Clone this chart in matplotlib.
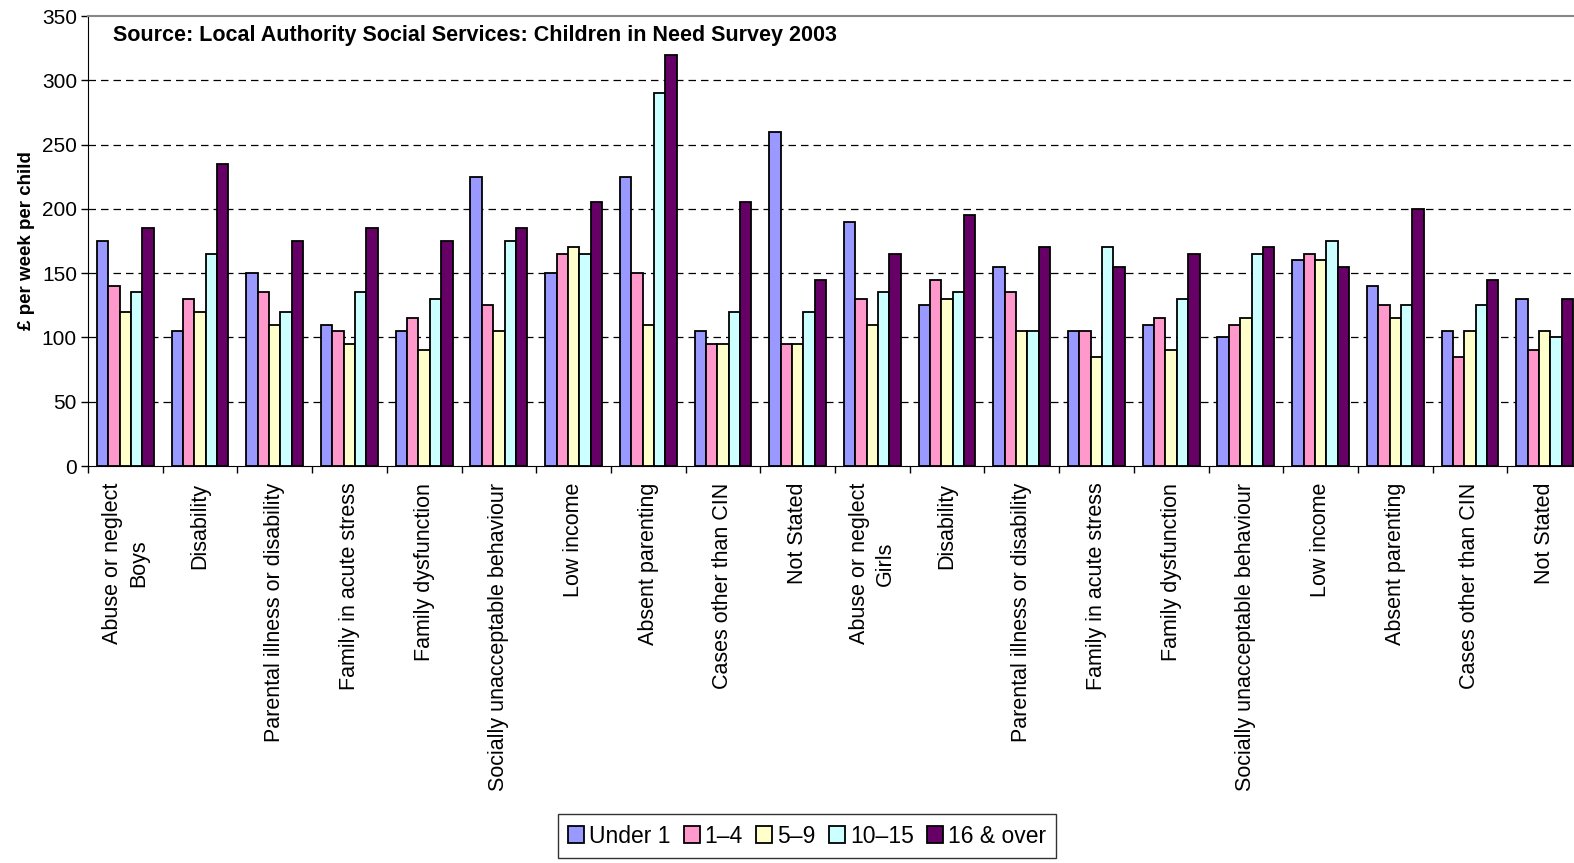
import matplotlib
matplotlib.use("Agg")
import matplotlib.pyplot as plt
import numpy as np

plt.rcParams['font.family'] = ['Liberation Sans', 'DejaVu Sans']

categories = [
    "Abuse or neglect\nBoys", "Disability", "Parental illness or disability",
    "Family in acute stress", "Family dysfunction", "Socially unacceptable behaviour",
    "Low income", "Absent parenting", "Cases other than CIN", "Not Stated",
    "Abuse or neglect\nGirls", "Disability", "Parental illness or disability",
    "Family in acute stress", "Family dysfunction", "Socially unacceptable behaviour",
    "Low income", "Absent parenting", "Cases other than CIN", "Not Stated",
]
series_names = ["Under 1", "1\u20134", "5\u20139", "10\u201315", "16 & over"]
under1 = [175, 105, 150, 110, 105, 225, 150, 225, 105, 260,
          190, 125, 155, 105, 110, 100, 160, 140, 105, 130]
age1_4 = [140, 130, 135, 105, 115, 125, 165, 150, 95, 95,
          130, 145, 135, 105, 115, 110, 165, 125, 85, 90]
age5_9 = [120, 120, 110, 95, 90, 105, 170, 110, 95, 95,
          110, 130, 105, 85, 90, 115, 160, 115, 105, 105]
age10_15 = [135, 165, 120, 135, 130, 175, 165, 290, 120, 120,
            135, 135, 105, 170, 130, 165, 175, 125, 125, 100]
age16 = [185, 235, 175, 185, 175, 185, 205, 320, 205, 145,
         165, 195, 170, 155, 165, 170, 155, 200, 145, 130]
series = [under1, age1_4, age5_9, age10_15, age16]
colors = ["#9999FF", "#FF99CC", "#FFFFCC", "#CCFFFF", "#660066"]
yticks = [0, 50, 100, 150, 200, 250, 300, 350]

fig = plt.figure(figsize=(15.74, 8.63), dpi=100)
ax = fig.add_axes([88/1574, (863-466)/863, (1582-88)/1574, (466-16)/863])

x = np.arange(len(categories))
bw = 0.152
for i, (vals, col, name) in enumerate(zip(series, colors, series_names)):
    ax.bar(x + (i - 2) * bw, vals, width=bw, color=col, edgecolor='black',
           linewidth=1.3, label=name, zorder=3)

ax.set_xlim(-0.5, len(categories) - 0.5)
ax.set_ylim(0, 350)
ax.set_yticks(yticks)
ax.tick_params(axis='y', labelsize=15, direction='out', length=5, width=1, pad=3)
for yv in yticks[1:-1]:
    ax.axhline(yv, color='black', linestyle=(0, (6, 4)), linewidth=0.9, zorder=1)

ax.set_xticks(np.arange(len(categories) + 1) - 0.5)
ax.set_xticklabels([])
ax.tick_params(axis='x', which='major', direction='out', length=5, width=1)
ax.set_xticks(x, minor=True)
ax.set_xticklabels(categories, minor=True, rotation=90, fontsize=15.5,
                   va='top', ha='center', multialignment='center', linespacing=1.35)
ax.tick_params(axis='x', which='minor', length=0, pad=12)

ax.spines['top'].set_color('#888888')
ax.spines['top'].set_linewidth(1.5)
ax.spines['right'].set_visible(False)
ax.spines['left'].set_color('black')
ax.spines['bottom'].set_color('black')

ax.set_ylabel("\u00a3 per week per child", fontsize=13.5, fontweight='bold', labelpad=5)
ax.text(113/1574, 1 - 36/863, "Source: Local Authority Social Services: Children in Need Survey 2003",
        transform=fig.transFigure, fontsize=15.5, fontweight='bold', va='center', ha='left')

leg = fig.legend(loc='center', bbox_to_anchor=(807/1574, 1 - 836/863), ncol=5,
                 fontsize=16.5, frameon=True, fancybox=False, edgecolor='black',
                 handlelength=0.7, handleheight=0.7, handletextpad=0.2,
                 columnspacing=0.6, borderpad=0.45)
leg.get_frame().set_linewidth(1)

fig.savefig("out.png", dpi=100)
